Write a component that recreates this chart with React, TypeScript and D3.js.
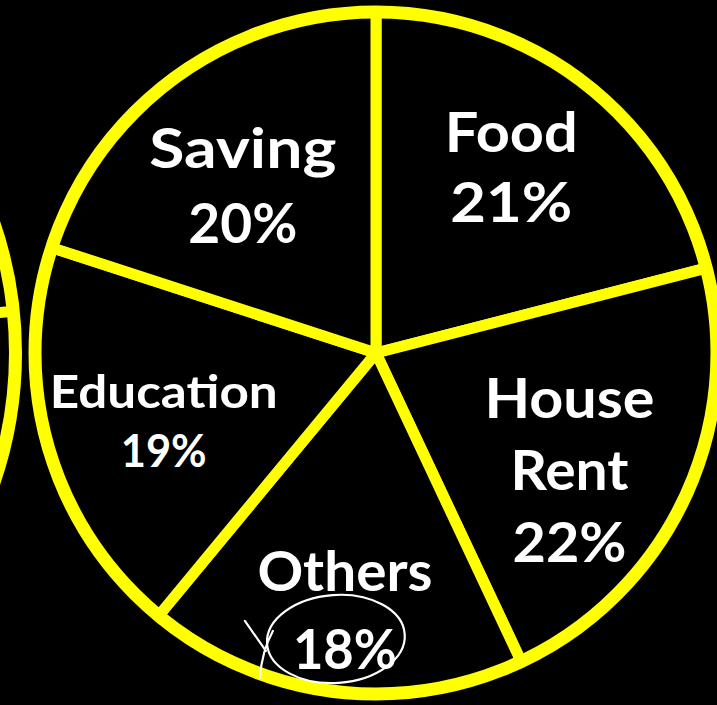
import React from 'react';
import * as d3 from 'd3';

// ---- data ----
const categories = ['Food', 'House Rent', 'Others', 'Education', 'Saving'];
const shares = [21, 22, 18, 19, 20];

// ---- layout / style (not data) ----
const W = 717;
const H = 705;
const CX = 376;
const CY = 353;
const R = 341;
const YELLOW = '#FFFF00';
const FONT = "Lato, 'DejaVu Sans', sans-serif";

// label placement: angle nudge (deg), radius, font size, line gap, line widths
const labelLayout = [
  { da: -1.8, r: 230, size: 55, gap: 70, widths: [133, 122] },
  { da: 5.9, r: 226, size: 55, gap: 72, widths: [170, 118, 114] },
  { da: -0.3, r: 259, size: 55, gap: 78, widths: [175, 104] },
  { da: -1.6, r: 223, size: 46, gap: 59, widths: [228, 86] },
  { da: -2.5, r: 214, size: 55, gap: 75, widths: [187, 109] },
];

export default function App() {
  const pie = d3.pie<number>().sort(null).value((d) => d);
  const arcs = pie(shares);
  const arcGen = d3.arc<d3.PieArcDatum<number>>().innerRadius(0).outerRadius(R);

  // neighbouring (cut-off) pie on the left
  const R2 = 400;
  const n2x = 22 - (R2 + 6.5) - CX;
  const spokeAng = (84 * Math.PI) / 180;

  return (
    <svg
      width={W}
      height={H}
      style={{ position: 'absolute', left: 0, top: 0, background: '#000' }}
    >
      <rect width={W} height={H} fill="#000" />
      <g transform={`translate(${CX},${CY})`}>
        {/* neighbour pie */}
        <g transform={`translate(${n2x},0)`}>
          <circle r={R2} fill="none" stroke={YELLOW} strokeWidth={13} />
          <line
            x1={0}
            y1={0}
            x2={R2 * Math.sin(spokeAng)}
            y2={-R2 * Math.cos(spokeAng)}
            stroke={YELLOW}
            strokeWidth={11}
          />
        </g>
        {arcs.map((a, i) => (
          <path
            key={i}
            d={arcGen(a) || ''}
            fill="#000"
            stroke={YELLOW}
            strokeWidth={11}
            strokeLinejoin="round"
          />
        ))}
        <circle r={R} fill="none" stroke={YELLOW} strokeWidth={13} />
        {arcs.map((a, i) => {
          const L = labelLayout[i];
          const lines = [...categories[i].split(' '), `${shares[i]}%`];
          const mid = (a.startAngle + a.endAngle) / 2 + (L.da * Math.PI) / 180;
          const x = L.r * Math.sin(mid);
          const y = -L.r * Math.cos(mid);
          const capH = 0.72 * L.size;
          const total = capH + L.gap * (lines.length - 1);
          const firstBase = y - total / 2 + capH;
          const lastBase = firstBase + L.gap * (lines.length - 1);
          return (
            <g key={`l${i}`}>
              {lines.map((t, j) => (
                <text
                  key={j}
                  x={x}
                  y={firstBase + j * L.gap}
                  textAnchor="middle"
                  fill="#fff"
                  fontFamily={FONT}
                  fontWeight={700}
                  fontSize={L.size}
                  textLength={L.widths[j]}
                  lengthAdjust="spacingAndGlyphs"
                >
                  {t}
                </text>
              ))}
              {categories[i] === 'Others' && (
                <g fill="none" stroke="#fff" strokeWidth={2.2} strokeLinecap="round">
                  <ellipse
                    cx={x - 9}
                    cy={lastBase - 30}
                    rx={69}
                    ry={44}
                    transform={`rotate(-4 ${x - 9} ${lastBase - 30})`}
                  />
                  <line x1={x - 100} y1={lastBase - 48} x2={x - 79} y2={lastBase - 18} />
                  <path d={`M${x - 85},${lastBase + 9} Q${x - 83},${lastBase - 18} ${x - 72},${lastBase - 38}`} />
                </g>
              )}
            </g>
          );
        })}
      </g>
    </svg>
  );
}
